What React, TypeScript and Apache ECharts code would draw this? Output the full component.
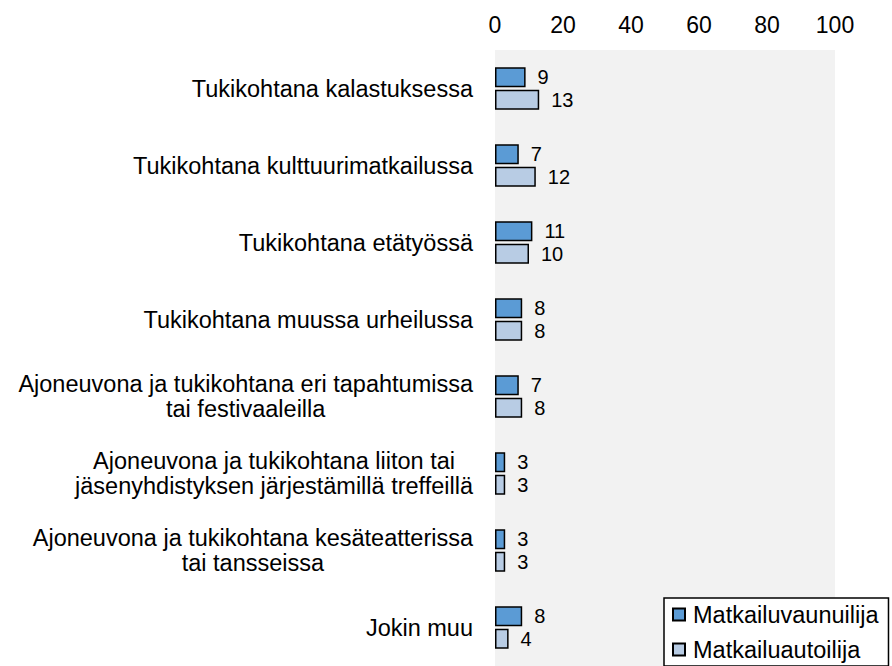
import React, { useEffect, useRef } from "react";
import * as echarts from "echarts";

const categories = [
  "Tukikohtana kalastuksessa",
  "Tukikohtana kulttuurimatkailussa",
  "Tukikohtana etätyössä",
  "Tukikohtana muussa urheilussa",
  "Ajoneuvona ja tukikohtana eri tapahtumissa\ntai festivaaleilla",
  "Ajoneuvona ja tukikohtana liiton tai\njäsenyhdistyksen järjestämillä treffeillä",
  "Ajoneuvona ja tukikohtana kesäteatterissa\ntai tansseissa",
  "Jokin muu",
];
const seriesNames = ["Matkailuvaunuilija", "Matkailuautoilija"];
const vaunuValues = [9, 7, 11, 8, 7, 3, 3, 8];
const autoValues = [13, 12, 10, 8, 8, 3, 3, 4];
const xTicks = [0, 20, 40, 60, 80, 100];

const FONT = "'Liberation Sans', Arial, sans-serif";

export default function App() {
  const ref = useRef<HTMLDivElement>(null);
  useEffect(() => {
    if (!ref.current) return;
    const chart = echarts.init(ref.current, undefined, { renderer: "svg" });
    const labelStyle = {
      show: true,
      position: "right" as const,
      distance: 12,
      color: "#000",
      fontSize: 20,
      fontFamily: FONT,
    };
    chart.setOption({
      animation: false,
      textStyle: { fontFamily: FONT },
      grid: {
        left: 495,
        width: 340,
        top: 50,
        bottom: 0,
        show: true,
        backgroundColor: "#f2f2f2",
        borderWidth: 0,
        containLabel: false,
      },
      xAxis: {
        type: "value",
        position: "top",
        min: xTicks[0],
        max: xTicks[xTicks.length - 1],
        interval: 20,
        axisLine: { show: false },
        axisTick: { show: false },
        splitLine: { show: false },
        axisLabel: {
          margin: 14,
          fontSize: 23,
          color: "#000",
          fontFamily: FONT,
        },
      },
      yAxis: {
        type: "category",
        data: categories,
        inverse: true,
        axisLine: { show: false },
        axisTick: { show: false },
        axisLabel: {
          margin: 22,
          color: "#000",
          fontFamily: FONT,
          fontSize: 23.5,
          lineHeight: 25.5,
          formatter: (v: string) =>
            v
              .split("\n")
              .map((l) => `{c|${l}}`)
              .join("\n"),
          rich: {
            c: {
              align: "center",
              fontSize: 23.5,
              lineHeight: 25.5,
              fontFamily: FONT,
              color: "#000",
            },
          },
        },
      },
      legend: {
        orient: "vertical",
        left: 664,
        top: 598,
        padding: [4, 10, 4, 8],
        icon: "rect",
        itemWidth: 12,
        itemHeight: 12,
        itemGap: 10,
        borderColor: "#000",
        borderWidth: 1.5,
        backgroundColor: "#fff",
        textStyle: {
          fontSize: 23.5,
          lineHeight: 25,
          color: "#000",
          fontFamily: FONT,
          padding: [0, 0, 0, 3],
        },
        data: seriesNames,
      },
      series: [
        {
          name: seriesNames[0],
          type: "bar",
          data: vaunuValues,
          barWidth: 20,
          barGap: "12%",
          itemStyle: { color: "#5b9bd5", borderColor: "#000", borderWidth: 1.5 },
          label: labelStyle,
        },
        {
          name: seriesNames[1],
          type: "bar",
          data: autoValues,
          barWidth: 20,
          barGap: "12%",
          itemStyle: { color: "#b8cce4", borderColor: "#000", borderWidth: 1.5 },
          label: labelStyle,
        },
      ],
    });
    return () => chart.dispose();
  }, []);
  return (
    <div
      ref={ref}
      style={{ position: "fixed", left: 0, top: 0, width: 892, height: 666, background: "#fff" }}
    />
  );
}
